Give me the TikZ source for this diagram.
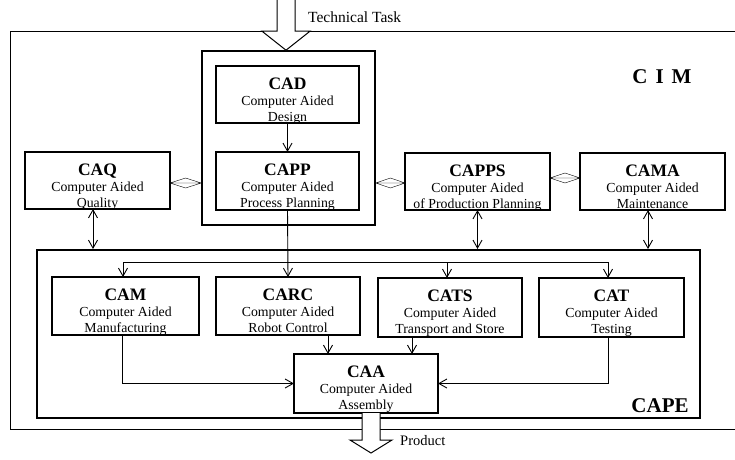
\documentclass[tikz,border=0pt]{standalone}
\usepackage{fontspec}
\setmainfont{Liberation Serif}
\usetikzlibrary{arrows.meta,calc}
\tikzset{
  box/.style={draw, line width=1.2pt, inner sep=0pt, outer sep=0pt},
  ttl/.style={anchor=base, inner sep=0pt, font=\fontsize{17.5}{18}\selectfont\bfseries},
  sub/.style={anchor=base, inner sep=0pt, font=\fontsize{13.8}{15}\selectfont},
  conn/.style={line width=0.9pt},
  arr/.style={conn, -{Straight Barb[length=8pt,width=9pt,line width=0.9pt]}},
  dbl/.style={conn, {Straight Barb[length=8pt,width=9pt,line width=0.9pt]}-{Straight Barb[length=8pt,width=9pt,line width=0.9pt]}},
  dia/.style={conn, to path={(\tikztostart) -- ($(\tikztostart)!0.5!(\tikztotarget)+(0,-5)$) -- (\tikztotarget) -- ($(\tikztostart)!0.5!(\tikztotarget)+(0,5)$) -- cycle (\tikztostart) -- (\tikztotarget)}},
  blockarr/.style={draw, fill=white, line width=1pt, line join=miter},
  big/.style={anchor=base, inner sep=0pt, font=\fontsize{21}{22}\selectfont\bfseries},
  lbl/.style={anchor=base west, inner sep=0pt},
}
\newcommand\mkbox[8]{%
  \node[box, minimum width={#4-#2}, minimum height={#5-#3}] (#1) at ({(#2+#4)/2},{(#3+#5)/2}) {};
  \node[ttl] (#1-t) at ($(#1.north)+(0,23.5)$) {#6};
  \node[sub] (#1-a) at ($(#1.north)+(0,39.5)$) {#7};
  \node[sub] (#1-b) at ($(#1.north)+(0,55)$) {#8};
}
\begin{document}
\begin{tikzpicture}[x=1pt,y=-1pt]
\useasboundingbox (0,0) rectangle (735,459);
% CIM frame
\node[draw, line width=0.8pt, minimum width=735, minimum height=398, inner sep=0pt] (cimframe) at (377.5,230) {};
\node[big] (cim) at (662,83) {C\hspace{8pt}I\hspace{8pt}M};
% CAPE frame
\node[draw, line width=2pt, minimum width=663, minimum height=168, inner sep=0pt] (cape) at (368.5,334) {};
\node[big] (capelbl) at (660,412) {CAPE};
% CAD/CAPP outer
\node[draw, line width=1.6pt, minimum width=173, minimum height=174, inner sep=0pt] (cadcapp) at (288.5,138) {};
% boxes
\mkbox{cad}{216}{66}{359}{123}{CAD}{Computer Aided}{Design}
\mkbox{capp}{216}{152}{359}{210}{CAPP}{Computer Aided}{Process Planning}
\mkbox{caq}{25}{152}{170}{209}{CAQ}{Computer Aided}{Quality}
\mkbox{capps}{405}{153}{550}{210}{CAPPS}{Computer Aided}{of Production Planning}
\mkbox{cama}{580}{153}{725}{210}{CAMA}{Computer Aided}{Maintenance}
\mkbox{cam}{52}{277}{199}{335}{CAM}{Computer Aided}{Manufacturing}
\mkbox{carc}{216}{277}{360}{335}{CARC}{Computer Aided}{Robot Control}
\mkbox{cats}{378}{278}{522}{337}{CATS}{Computer Aided}{Transport and Store}
\mkbox{cat}{539}{278}{684}{337}{CAT}{Computer Aided}{Testing}
\mkbox{caa}{294}{354}{438}{413}{CAA}{Computer Aided}{Assembly}
% CAD -> CAPP
\draw[arr] (cad.south) -- (capp.north);
% CAPP -> CARC
\draw[arr] (capp.south) -- (carc.north);
% diamonds
\coordinate (q1) at ([yshift=-2.5pt]caq.east);
\draw (q1) to[dia] (q1 -| cadcapp.west);
\coordinate (q2) at ([yshift=-1.5pt]capps.west);
\draw (cadcapp.east |- q2) to[dia] (q2);
\coordinate (q3) at ([yshift=3.5pt]capps.east);
\draw (q3) to[dia] (q3 -| cama.west);
% vertical double arrows
\coordinate (v1) at ([xshift=-4.5pt]caq.south);
\draw[dbl] (v1) -- (v1 |- cape.north);
\draw[dbl] (capps.south) -- (capps.south |- cape.north);
\coordinate (v3) at ([xshift=-4.5pt]cama.south);
\draw[dbl] (v3) -- (v3 |- cape.north);
% bus
\coordinate (bm) at ([xshift=-2.5pt]cam.north);
\coordinate (bs) at ([xshift=-3pt]cats.north);
\coordinate (bt) at ([xshift=-3.5pt]cat.north);
\coordinate (busL) at ([yshift=15pt]bm);
\draw[conn] (busL) -- (busL -| bt);
\draw[arr] (busL) -- (bm);
\draw[arr] (busL -| bs) -- (bs);
\draw[arr] (busL -| bt) -- (bt);
% into CAA
\coordinate (r1) at ([xshift=40pt]carc.south);
\draw[arr] (r1) -- (r1 |- caa.north);
\coordinate (r2) at ([xshift=-38pt]cats.south);
\draw[arr] (r2) -- (r2 |- caa.north);
\coordinate (m1) at ([xshift=-3.5pt]cam.south);
\draw[arr] (m1) |- (caa.west);
\coordinate (t1) at ([xshift=-3.5pt]cat.south);
\draw[arr] (t1) |- (caa.east);
% block arrows
\draw[blockarr] ([xshift=-2.5pt]cadcapp.north) -- ++(-24,-19) -- ++(15,0) -- ++(0,-40) -- ++(18,0) -- ++(0,40) -- ++(15,0) -- cycle;
\node[lbl, font=\fontsize{15.5}{16}\selectfont] (task) at (308,22) {Technical Task};
\draw[blockarr] ([xshift=-4pt]caa.south) -- ++(0,27) -- ++(-12,0) -- ++(21,13) -- ++(21,-13) -- ++(-12,0) -- ++(0,-27);
\node[lbl, font=\fontsize{14.5}{15}\selectfont] (prod) at (400,445) {Product};
\end{tikzpicture}
\end{document}
